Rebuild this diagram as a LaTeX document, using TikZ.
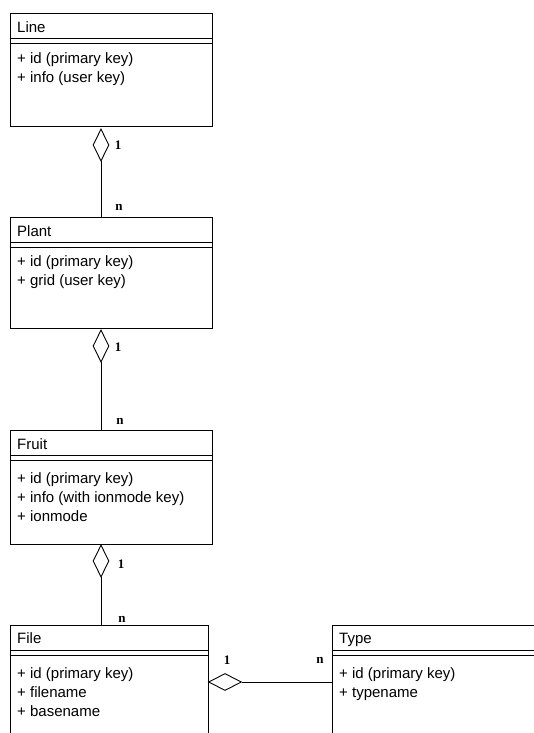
\documentclass[tikz,border=0pt]{standalone}
\usepackage{fontspec}
\setmainfont{Liberation Sans}
\newfontfamily\multfont{Liberation Serif}
\usetikzlibrary{shapes.geometric}
\tikzstyle{classbox} = [rectangle, draw=black, line width=0.9pt, minimum width=202pt, inner sep=0pt, anchor=north west]
\tikzstyle{classname} = [anchor=base west, inner sep=0pt, font=\fontsize{15}{17}\selectfont]
\tikzstyle{attr} = [anchor=base west, inner sep=0pt, font=\fontsize{15}{17}\selectfont]
\tikzstyle{mult} = [inner sep=0pt, font=\multfont\bfseries\fontsize{13}{15}\selectfont]
\tikzstyle{agg} = [diamond, draw=black, fill=white, inner sep=0pt, minimum width=16pt, minimum height=32pt, line width=0.9pt]
\tikzstyle{link} = [line width=0.9pt]

\begin{document}
\begin{tikzpicture}[x=1pt, y=-1pt]
                \useasboundingbox (0,0) rectangle (534,733);
                \clip (0,0) rectangle (534,733);

% ---------------------------------------------
% Class boxes
% ---------------------------------------------
                \node (line) [classbox, minimum height=113pt] at (10,13) {};
                \node (plant) [classbox, minimum height=111pt] at (10,217) {};
                \node (fruit) [classbox, minimum height=114pt] at (10,430) {};
                \node (file) [classbox, minimum width=198pt, minimum height=140pt] at (10,625) {};
                \node (type) [classbox, minimum width=213pt, minimum height=140pt] at (332,625) {};

                % double line under the class name
                \foreach \b in {line,plant,fruit,file,type} {
                    \draw [link] ([yshift=-25pt]\b.north west) -- ([yshift=-25pt]\b.north east);
                    \draw [link] ([yshift=-30pt]\b.north west) -- ([yshift=-30pt]\b.north east);
                }

% ---------------------------------------------
% Names and attributes
% ---------------------------------------------
                \node (line_name) [classname] at (17,33) {Line};
                \node (line_id) [attr] at (17,64) {+ id (primary key)};
                \node (line_info) [attr] at (17,83) {+ info (user key)};

                \node (plant_name) [classname] at (17,236) {Plant};
                \node (plant_id) [attr] at (17,266) {+ id (primary key)};
                \node (plant_grid) [attr] at (17,285) {+ grid (user key)};

                \node (fruit_name) [classname] at (17,449) {Fruit};
                \node (fruit_id) [attr] at (17,483) {+ id (primary key)};
                \node (fruit_info) [attr] at (17,502) {+ info (with ionmode key)};
                \node (fruit_ionmode) [attr] at (17,521) {+ ionmode};

                \node (file_name) [classname] at (17,643) {File};
                \node (file_id) [attr] at (17,678) {+ id (primary key)};
                \node (file_filename) [attr] at (17,697) {+ filename};
                \node (file_basename) [attr] at (17,716) {+ basename};

                \node (type_name) [classname] at (339,643) {Type};
                \node (type_id) [attr] at (339,678) {+ id (primary key)};
                \node (type_typename) [attr] at (339,697) {+ typename};

% ---------------------------------------------
% Aggregations
% ---------------------------------------------
                \node (line_agg) [agg] at (101,145) {};
                \node (plant_agg) [agg] at (101,346) {};
                \node (fruit_agg) [agg] at (101,561) {};
                \node (file_agg) [agg, minimum width=33pt, minimum height=17pt] at (225,682) {};

                \draw [link] (line_agg.south) -- (line_agg.south |- plant.north);
                \draw [link] (plant_agg.south) -- (plant_agg.south |- fruit.north);
                \draw [link] (fruit_agg.south) -- (fruit_agg.south |- file.north);
                \draw [link] (file_agg.east) -- (file_agg.east -| type.west);

                %  multiplicities
                \node (line_one) [mult] at (118,145) {1};
                \node (plant_n) [mult] at (119,207) {n};
                \node (plant_one) [mult] at (118,347) {1};
                \node (fruit_n) [mult] at (120,421) {n};
                \node (fruit_one) [mult] at (121,564) {1};
                \node (file_n) [mult] at (122,619) {n};
                \node (file_one) [mult] at (227,660) {1};
                \node (type_n) [mult] at (320,660) {n};

            \end{tikzpicture}
\end{document}
